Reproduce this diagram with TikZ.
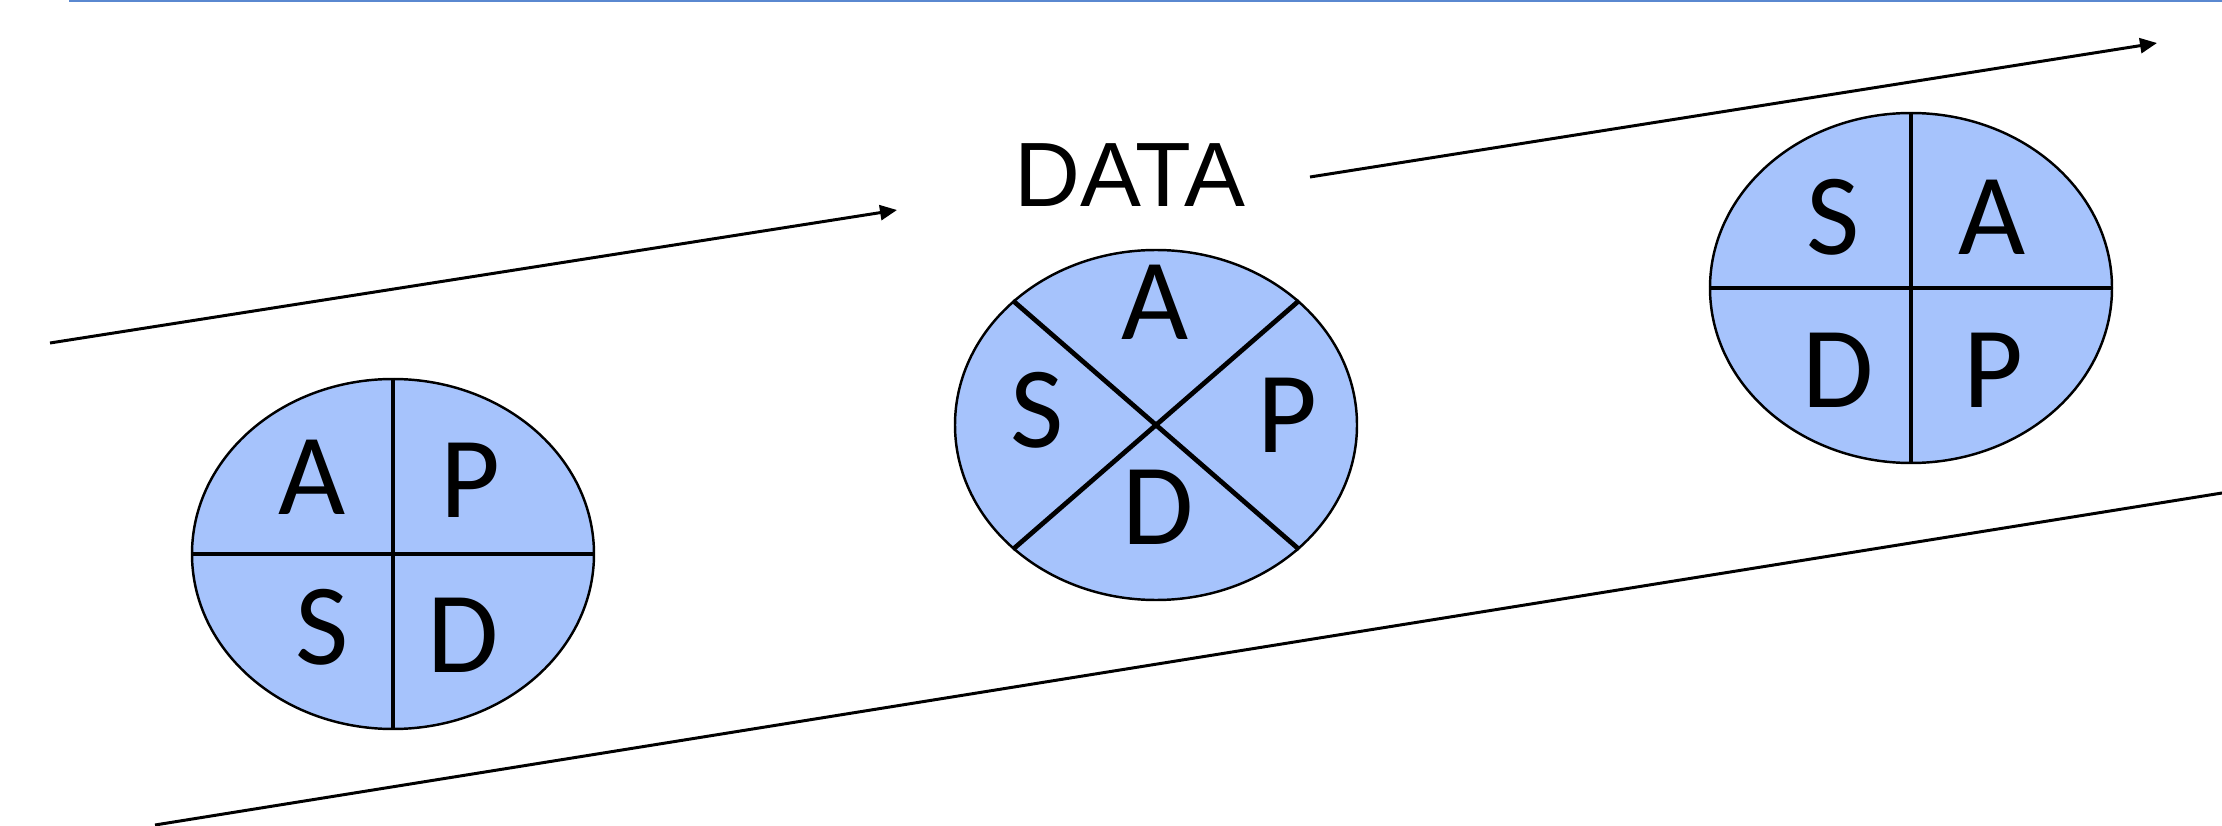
\documentclass[tikz,border=0pt]{standalone}
\usepackage{fontspec}
\setmainfont{Carlito}
\newfontfamily\datafont{Liberation Sans}
\usetikzlibrary{shapes.geometric,arrows.meta}
\definecolor{cornflower}{HTML}{A6C3FC}
\definecolor{steelline}{HTML}{5A88D0}

\begin{document}
\begin{tikzpicture}[line width=0.85pt, >={Triangle[length=0.17cm, width=0.15cm]}]
\useasboundingbox (0,0) rectangle (22.22,8.25);
\draw[steelline, line width=0.8pt] (0.69,8.24) -- (22.22,8.24);

\tikzstyle{every node}=[ellipse, fill=cornflower, draw=black, line width=0.7pt, minimum width=4.02cm, minimum height=3.5cm, inner sep=0pt]
\draw    (3.93,  2.71)  node (e1) {}
         (11.56, 4.00)  node (e2) {}
         (19.11, 5.37)  node (e3) {};

\tikzstyle{every node}=[inner sep=0pt, font=\fontsize{33}{36}\selectfont]
\draw    (3.12,  3.48)  node (a1) {A}
         (4.70,  3.45)  node (p1) {P}
         (3.22,  1.98)  node (s1) {S}
         (4.63,  1.90)  node (d1) {D};
\draw    (11.55, 5.23)  node (a2) {A}
         (10.37, 4.15)  node (s2) {S}
         (12.87, 4.10)  node (p2) {P}
         (11.58, 3.18)  node (d2) {D};
\draw    (18.33, 6.08)  node (s3) {S}
         (19.92, 6.08)  node (a3) {A}
         (18.38, 4.55)  node (d3) {D}
         (19.93, 4.55)  node (p3) {P};

\draw (11.30, 6.50) node[font={\datafont\fontsize{26}{30}\selectfont}] (data) {DATA};

\draw[line width=1.35pt] (e1.north) -- (e1.south);
\draw[line width=1.35pt] (e1.west) -- (e1.east);

\draw[line width=1.35pt] (e2.41) -- (e2.221);
\draw[line width=1.35pt] (e2.139) -- (e2.319);

\draw[line width=1.35pt] (e3.north) -- (e3.south);
\draw[line width=1.35pt] (e3.west) -- (e3.east);

\coordinate (in0) at (0.50, 4.82);
\coordinate (in1) at (8.97, 6.15);
\coordinate (out0) at (13.10, 6.48);
\coordinate (out1) at (21.57, 7.82);
\coordinate (low0) at (1.55, 0);
\coordinate (low1) at (22.22, 3.32);

\draw[->] (in0) -- (in1);
\draw[->] (out0) -- (out1);
\draw (low0) -- (low1);

\end{tikzpicture}
\end{document}
